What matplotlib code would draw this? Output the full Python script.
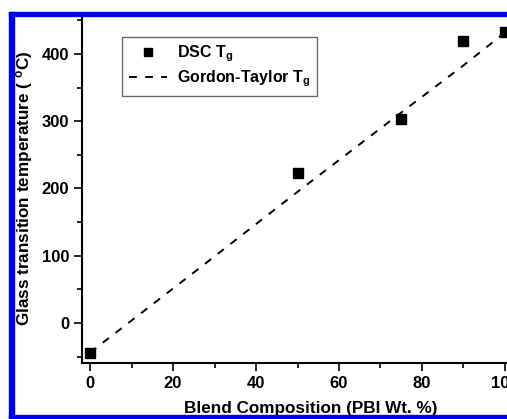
import matplotlib
matplotlib.use("Agg")
import matplotlib.pyplot as plt
from matplotlib.patches import Rectangle
from matplotlib.ticker import MultipleLocator

plt.rcParams['font.family'] = ['Liberation Sans', 'DejaVu Sans']
plt.rcParams['font.weight'] = 'bold'
plt.rcParams['mathtext.fontset'] = 'custom'
plt.rcParams['mathtext.rm'] = 'Liberation Sans:bold'
plt.rcParams['mathtext.bf'] = 'Liberation Sans:bold'
plt.rcParams['mathtext.it'] = 'Liberation Sans:bold'

# Data
dsc_x = [0, 50, 75, 90, 100]
dsc_y = [-44, 223, 304, 419, 432]
gt_x = [0, 25, 50, 75, 90, 100]
gt_y = [-44, 75, 195, 313, 383, 432]

xticks = [0, 20, 40, 60, 80, 100]
yticks = [0, 100, 200, 300, 400]

W, H = 507, 419
fig = plt.figure(figsize=(W / 100, H / 100), dpi=100)

# axes geometry (pixels)
left_px, bottom_px, top_px = 81.7, 363, 18
xmin, xmax = -2, 110
ymin, ymax = -59.5, 453.5
xscale = 4.15
width_px = (xmax - xmin) * xscale
height_px = bottom_px - top_px
ax = fig.add_axes([left_px / W, (H - bottom_px) / H, width_px / W, height_px / H])

ax.plot(gt_x, gt_y, color='black', lw=1.4, dashes=[4, 4.3], label='Gordon-Taylor T$_\\mathrm{g}$')
ax.plot(dsc_x, dsc_y, 's', color='black', ms=7.5, label='DSC T$_\\mathrm{g}$', clip_on=False)

ax.set_xlim(xmin, xmax)
ax.set_ylim(ymin, ymax)
ax.set_xticks(xticks)
ax.set_yticks(yticks)
ax.xaxis.set_minor_locator(MultipleLocator(10))
ax.yaxis.set_minor_locator(MultipleLocator(50))
for s in ['top', 'right']:
    ax.spines[s].set_visible(False)
for s in ['left', 'bottom']:
    ax.spines[s].set_linewidth(1.5)
ax.tick_params(which='major', direction='out', length=6, width=1.2, labelsize=12, pad=3)
ax.tick_params(which='minor', direction='out', length=3.5, width=1.2)
for lab in ax.get_xticklabels() + ax.get_yticklabels():
    lab.set_fontweight('bold')

ax.set_xlabel('Blend Composition (PBI Wt. %)', fontsize=12.3, fontweight='bold')
ax.xaxis.set_label_coords((311 - left_px) / width_px, -38 / height_px)
ax.set_ylabel('Glass transition temperature ( $^\\mathrm{o}$C)', fontsize=12.3, fontweight='bold')
ax.yaxis.set_label_coords((35 - left_px) / width_px, (363 - 188) / height_px)

h, l = ax.get_legend_handles_labels()
leg = ax.legend([h[1], h[0]], [l[1], l[0]], loc='upper left',
                bbox_to_anchor=((122 - left_px) / width_px, (bottom_px - 37) / height_px),
                frameon=True, fancybox=False, edgecolor='#444444',
                handlelength=2.4, handletextpad=0.6, borderpad=0.42, labelspacing=0.28,
                borderaxespad=0, markerscale=0.8,
                prop={'weight': 'bold', 'size': 11.5})
leg.get_frame().set_linewidth(1.0)

# blue frame of the screenshot
blue = '#0000ee'
fig.patches.append(Rectangle((9 / W, 0), 4.5 / W, (H - 12) / H, transform=fig.transFigure,
                             color=blue, zorder=10))
fig.patches.append(Rectangle((9 / W, (H - 16.5) / H), 1, 4.5 / H, transform=fig.transFigure,
                             color=blue, zorder=10))
fig.patches.append(Rectangle((9 / W, 0), 1, 4.5 / H, transform=fig.transFigure,
                             color=blue, zorder=10))

fig.savefig('out.png', dpi=100)
